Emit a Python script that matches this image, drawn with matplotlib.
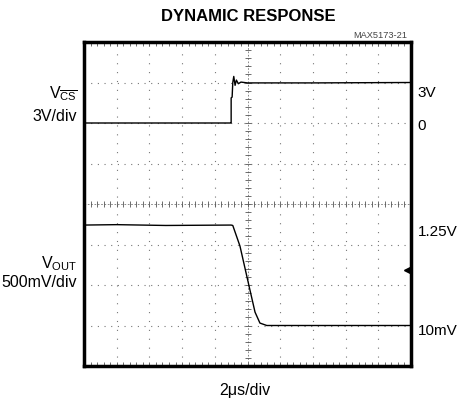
import numpy as np
import matplotlib
matplotlib.use('Agg')
import matplotlib.pyplot as plt

# scope traces, in screen divisions (10 x 8 grid, y from bottom)
vcs_x = [0.0, 2.2, 4.48, 4.50, 4.50, 4.53, 4.55, 4.58, 4.62, 4.66, 4.72, 4.80, 5.0, 7.0, 10.0]
vcs_y = [6.0, 6.0, 6.0, 6.0, 6.62, 6.64, 7.0, 7.15, 6.93, 7.06, 6.97, 7.01, 6.99, 6.99, 7.0]
vout_x = [0.0, 1.0, 2.5, 4.50, 4.55, 4.77, 5.04, 5.23, 5.38, 5.59, 7.0, 10.0]
vout_y = [3.48, 3.49, 3.47, 3.48, 3.47, 2.96, 2.0, 1.33, 1.06, 1.0, 1.0, 1.0]

left_labels = [(r'V$_{\overline{\mathrm{CS}}}$', 6.64), ('3V/div', 6.07),
               (r'V$_{\mathrm{OUT}}$', 2.44), ('500mV/div', 1.98)]
right_labels = [('3V', 6.67), ('0', 5.85), ('1.25V', 3.23), ('10mV', 0.79)]

plt.rcParams['font.family'] = ['Liberation Sans', 'DejaVu Sans']
plt.rcParams['mathtext.fontset'] = 'custom'
plt.rcParams['mathtext.rm'] = 'Liberation Sans'
plt.rcParams['mathtext.it'] = 'Liberation Sans'

fig = plt.figure(figsize=(4.58, 4.02), dpi=100)
ax = fig.add_axes([84 / 458, 1 - 367 / 402, 327 / 458, 324 / 402])
ax.set_xlim(0, 10)
ax.set_ylim(0, 8)
ax.set_xticks([])
ax.set_yticks([])
for s in ax.spines.values():
    s.set_linewidth(2.5)

# dotted graticule
for gx in range(1, 10):
    if gx != 5:
        ax.axvline(gx, color='#777777', lw=0.8, ls=(0, (1, 7)))
for gy in range(1, 8):
    if gy != 4:
        ax.axhline(gy, color='#777777', lw=0.8, ls=(0, (1, 5)))

# center cross with minor ticks
ax.axhline(4, color='#777777', lw=0.6, ls=(0, (2, 2)))
ax.axvline(5, color='#777777', lw=0.6, ls=(0, (2, 2)))
minor_x = np.arange(0.2, 10, 0.2)
minor_y = np.arange(0.2, 8, 0.2)
ax.plot(minor_x, np.full_like(minor_x, 4), '|', color='#555555', ms=4, mew=0.6)
ax.plot(np.full_like(minor_y, 5), minor_y, '_', color='#555555', ms=4, mew=0.6)
ax.plot(minor_x, np.full_like(minor_x, 0.06), '|', color='#555555', ms=3, mew=0.6)
ax.plot(minor_x, np.full_like(minor_x, 7.94), '|', color='#555555', ms=3, mew=0.6)

ax.plot(vcs_x, vcs_y, color='black', lw=1.0)
ax.plot(vout_x, vout_y, color='black', lw=1.0)
ax.plot([9.88], [2.37], marker='<', color='black', ms=4)

for txt, yv in left_labels:
    ax.text(-0.21, yv, txt, ha='right', va='baseline', fontsize=11.5, clip_on=False)
for txt, yv in right_labels:
    ax.text(10.2, yv, txt, ha='left', va='baseline', fontsize=11, clip_on=False)

fig.text(248.5 / 458, 1 - 16.5 / 402, 'DYNAMIC RESPONSE', ha='center', va='center',
         fontsize=12, fontweight='bold')
fig.text(407 / 458, 1 - 35.5 / 402, 'MAX5173-21', ha='right', va='center', fontsize=6.7,
         color='#444444')
fig.text(245 / 458, 1 - 391 / 402, '2μs/div', ha='center', va='center', fontsize=11.5)

fig.savefig('out.png', dpi=100)
